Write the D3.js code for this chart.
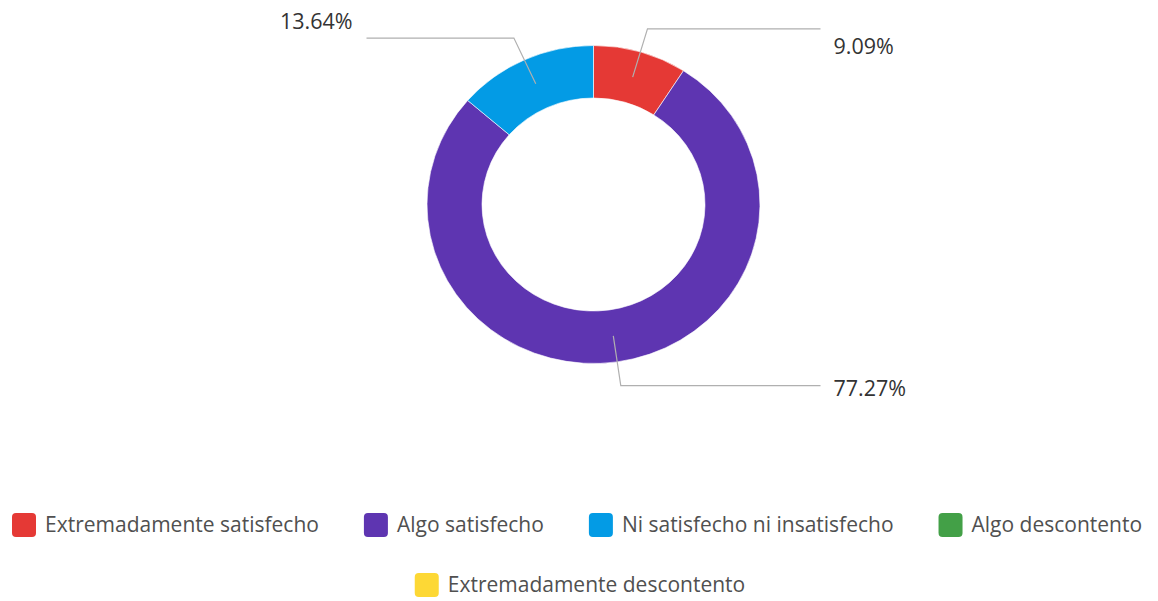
<!DOCTYPE html>
<html>
<head>
<meta charset="utf-8">
<script src="https://cdn.jsdelivr.net/npm/d3@7"></script>
<style>
  html, body { margin: 0; padding: 0; background: #fff; }
  svg { display: block; }
</style>
</head>
<body>
<svg id="chart" width="1158" height="601"></svg>
<script>
const categories = ["Extremadamente satisfecho", "Algo satisfecho", "Ni satisfecho ni insatisfecho", "Algo descontento", "Extremadamente descontento"];
const values = [9.09, 77.27, 13.64, 0, 0];
const colors = ["#e53935", "#5e35b1", "#039be5", "#43a047", "#fdd835"];

const W = 1158, H = 601;
const cx = 593.5, cy = 204.5;
const sx = 1.047;            // horizontal stretch of the reference image
const outerR = 159, innerR = 106.5;
const labelFont = "'Open Sans', sans-serif";

const svg = d3.select("#chart");
const data = categories.map((c, i) => ({ name: c, value: values[i], color: colors[i] }));

const pie = d3.pie().sort(null).value(d => d.value);
const arcs = pie(data);
const arc = d3.arc().innerRadius(innerR).outerRadius(outerR);

const g = svg.append("g").attr("transform", `translate(${cx},${cy}) scale(${sx},1)`);
g.selectAll("path.slice")
  .data(arcs.filter(a => a.value > 0))
  .join("path")
  .attr("class", "slice")
  .attr("d", arc)
  .attr("fill", d => d.data.color)
  .attr("stroke", "#ffffff")
  .attr("stroke-width", 0.6);

// leader lines & labels
const fmt = v => d3.format(".2f")(v) + "%";
const midR = (innerR + outerR) / 2, elbowR = 183, lineHalf = 227;
const labelDy = { "Extremadamente satisfecho": 25, "Algo satisfecho": 10, "Ni satisfecho ni insatisfecho": -9 };
const pt = (a, r) => [cx + Math.sin(a) * r * sx, cy - Math.cos(a) * r];

const lg = svg.append("g");
arcs.filter(a => a.value > 0).forEach(a => {
  const mid = (a.startAngle + a.endAngle) / 2;
  const p1 = pt(mid, midR), p2 = pt(mid, elbowR);
  const right = Math.sin(mid) >= 0;
  const p3 = [right ? cx + lineHalf : cx - lineHalf, p2[1]];
  lg.append("path")
    .attr("d", d3.line()([p1, p2, p3]))
    .attr("fill", "none")
    .attr("stroke", "#b0b0b0")
    .attr("stroke-width", 1.2);
  lg.append("text")
    .attr("x", right ? p3[0] + 13 : p3[0] - 14)
    .attr("y", p3[1] + labelDy[a.data.name])
    .attr("text-anchor", right ? "start" : "end")
    .attr("font-family", labelFont)
    .attr("font-size", 21.5)
    .attr("fill", "#333")
    .text(fmt(a.data.value));
});

// legend
const legFont = 21, sw = 24, swGap = 9, itemGap = 45;
const leg = svg.append("g");
const rows = [data.slice(0, 4), data.slice(4)];
const rowY = [525, 585];
const meas = svg.append("text").attr("font-family", labelFont).attr("font-size", legFont).attr("visibility", "hidden");
const tw = s => { meas.text(s); return meas.node().getComputedTextLength(); };
rows.forEach((row, ri) => {
  const widths = row.map(d => sw + swGap + tw(d.name));
  const total = d3.sum(widths) + itemGap * (row.length - 1);
  let x = ri === 0 ? 12 : 580 - total / 2;
  row.forEach((d, i) => {
    const y = rowY[ri];
    leg.append("rect")
      .attr("x", x).attr("y", y - sw / 2)
      .attr("width", sw).attr("height", sw)
      .attr("rx", 4).attr("ry", 4)
      .attr("fill", d.color);
    leg.append("text")
      .attr("x", x + sw + swGap)
      .attr("y", y + 7)
      .attr("font-family", labelFont)
      .attr("font-size", legFont)
      .attr("fill", "#505050")
      .text(d.name);
    x += widths[i] + itemGap;
  });
});
meas.remove();
</script>
</body>
</html>
